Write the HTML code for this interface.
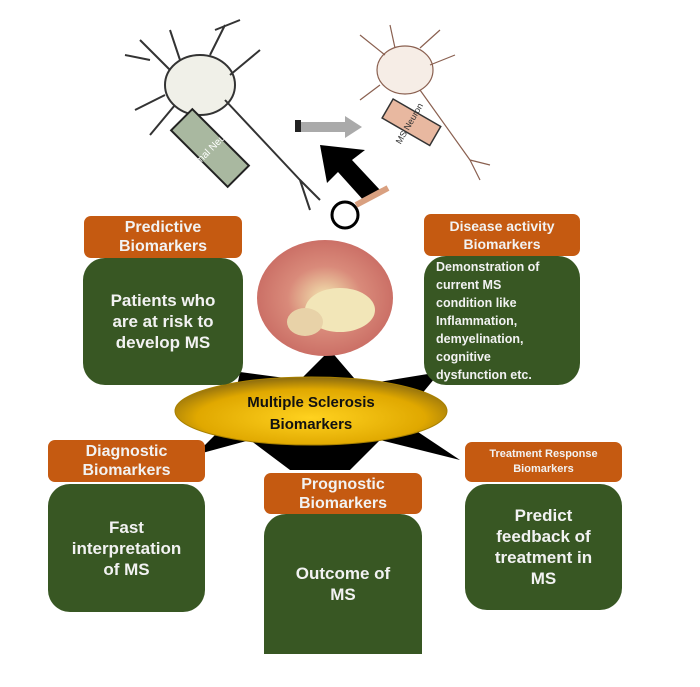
<!DOCTYPE html>
<html><head><style>
body{margin:0;background:#fff;width:700px;height:687px;position:relative;overflow:hidden;font-family:"Liberation Sans",Arial,sans-serif;font-weight:bold}
.h{position:absolute;background:#c55a11;color:#f2f2f2;border-radius:7px;text-align:center;font-size:16px;line-height:19px;display:flex;align-items:center;justify-content:center}
.g{position:absolute;background:#385723;color:#f2f2f2;border-radius:22px;text-align:center;font-size:17px;line-height:21px;display:flex;align-items:center;justify-content:center}
</style></head><body>
<svg width="700" height="687" style="position:absolute;left:0;top:0">
<defs><radialGradient id="gd" cx="50%" cy="60%" r="60%"><stop offset="0" stop-color="#ffd21f"/><stop offset="0.7" stop-color="#e0a800"/><stop offset="1" stop-color="#8a6a10"/></radialGradient>
<radialGradient id="br" cx="50%" cy="50%" r="55%"><stop offset="0" stop-color="#f3e6b0"/><stop offset="0.5" stop-color="#d98a7a"/><stop offset="1" stop-color="#c86a62"/></radialGradient></defs>
<polygon points="240,372 300,380 330,350 360,385 440,372 400,420 460,460 380,440 350,470 290,470 250,440 195,455 230,420" fill="#000"/>
<ellipse cx="325" cy="298" rx="68" ry="58" fill="url(#br)"/>
<ellipse cx="340" cy="310" rx="35" ry="22" fill="#f2e6b8"/>
<ellipse cx="305" cy="322" rx="18" ry="14" fill="#e8d2a8"/>
<g stroke="#333" stroke-width="2" fill="none">
<ellipse cx="200" cy="85" rx="35" ry="30" fill="#f0f0e8"/>
<path d="M170,70 L140,40 M180,60 L170,30 M210,55 L225,25 M230,75 L260,50 M165,95 L135,110 M175,105 L150,135 M225,100 L300,180 M300,180 L320,200 M300,180 L310,210 M150,60 L125,55 M215,30 L240,20"/>
</g>
<rect x="195" y="108" width="30" height="80" fill="#a9b8a0" stroke="#222" stroke-width="2" transform="rotate(-45 210 148)"/>
<text x="212" y="152" font-size="10" fill="#fff" transform="rotate(-45 212 152)" text-anchor="middle" font-weight="normal">Normal Neuron</text>
<g stroke="#8a6050" stroke-width="1.2" fill="none">
<ellipse cx="405" cy="70" rx="28" ry="24" fill="#f6ede6"/>
<path d="M385,55 L360,35 M395,48 L390,25 M420,48 L440,30 M430,65 L455,55 M380,85 L360,100 M420,90 L470,160 M470,160 L490,165 M470,160 L480,180"/>
</g>
<rect x="400" y="95" width="22" height="55" fill="#e8b8a0" stroke="#333" stroke-width="1.5" transform="rotate(-60 411 122)"/>
<text x="412" y="125" font-size="9" fill="#333" transform="rotate(-60 412 125)" text-anchor="middle" font-weight="normal">MS Neuron</text>
<rect x="295" y="122" width="50" height="10" fill="#aaa"/><polygon points="345,116 362,127 345,138" fill="#aaa"/>
<rect x="295" y="120" width="6" height="12" fill="#222"/>
<polygon points="320,145 365,150 352,160 380,190 365,202 338,172 327,183" fill="#000"/>
<circle cx="345" cy="215" r="13" fill="none" stroke="#000" stroke-width="3"/>
<line x1="356" y1="205" x2="388" y2="188" stroke="#d9a080" stroke-width="6"/>
<ellipse cx="311" cy="411" rx="136" ry="34" fill="url(#gd)" stroke="#a88000"/>
<text x="311" y="407" font-size="15" text-anchor="middle" fill="#111">Multiple Sclerosis</text>
<text x="311" y="429" font-size="15" text-anchor="middle" fill="#111">Biomarkers</text>
</svg>
<div class="h" style="left:84px;top:216px;width:158px;height:42px;font-size:16px">Predictive<br>Biomarkers</div>
<div class="g" style="left:83px;top:258px;width:160px;height:127px">Patients who<br>are at risk to<br>develop MS</div>
<div class="h" style="left:424px;top:214px;width:156px;height:42px;font-size:14px;line-height:18px">Disease activity<br>Biomarkers</div>
<div class="g" style="left:424px;top:256px;width:156px;height:129px;font-size:12.5px;line-height:18px;text-align:left;justify-content:flex-start;padding-left:12px;box-sizing:border-box">Demonstration of<br>current MS<br>condition like<br>Inflammation,<br>demyelination,<br>cognitive<br>dysfunction etc.</div>
<div class="h" style="left:48px;top:440px;width:157px;height:42px;font-size:16px">Diagnostic<br>Biomarkers</div>
<div class="g" style="left:48px;top:484px;width:157px;height:128px">Fast<br>interpretation<br>of MS</div>
<div class="h" style="left:264px;top:473px;width:158px;height:41px;font-size:16px">Prognostic<br>Biomarkers</div>
<div class="g" style="left:264px;top:514px;width:158px;height:140px;border-bottom-left-radius:0;border-bottom-right-radius:0">Outcome of<br>MS</div>
<div class="h" style="left:465px;top:442px;width:157px;height:40px;font-size:11px;line-height:15px">Treatment Response<br>Biomarkers</div>
<div class="g" style="left:465px;top:484px;width:157px;height:126px">Predict<br>feedback of<br>treatment in<br>MS</div>
</body></html>
